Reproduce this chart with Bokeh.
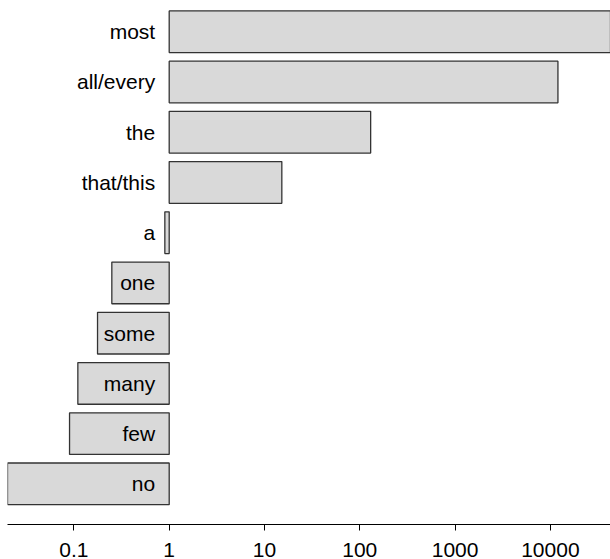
import numpy as np
from bokeh.plotting import figure
from bokeh.models import Range1d, FixedTicker, ColumnDataSource
from bokeh.core.properties import value
from bokeh.embed import file_html
from bokeh.resources import INLINE

# --- data ---
categories = ["most", "all/every", "the", "that/this", "a",
              "one", "some", "many", "few", "no"]
ratios = [45000, 12000, 130, 15.2, 0.9, 0.25, 0.177, 0.11, 0.09, 0.02]
tick_values = [0.1, 1, 10, 100, 1000, 10000]
tick_labels = ["0.1", "1", "10", "100", "1000", "10000"]
baseline = 1.0

n = len(categories)
ypos = [n - 1 - i for i in range(n)]
vals = np.array(ratios, dtype=float)
src = ColumnDataSource(dict(
    y=ypos,
    left=np.minimum(vals, baseline),
    right=np.maximum(vals, baseline),
    label=categories,
    base=[baseline] * n,
))

FONT = "Liberation Sans"

p = figure(width=610, height=559, x_axis_type="log",
           x_range=Range1d(0.0201, 42730), y_range=Range1d(-0.809, 9.622),
           output_backend="svg", toolbar_location=None,
           min_border_left=7, min_border_right=0, min_border_top=0,
           min_border_bottom=0)
p.outline_line_color = None
p.xgrid.visible = False
p.ygrid.visible = False
p.yaxis.visible = False

p.hbar(y="y", left="left", right="right", height=0.83, source=src,
       fill_color="#d9d9d9", line_color="#333333", line_width=1.3)

p.text(x="base", y="y", text="label", source=src, x_offset=-14,
       text_align="right", text_baseline="middle",
       text_font=value(FONT), text_font_size="21px", text_color="black")

ax = p.xaxis[0]
ax.ticker = FixedTicker(ticks=tick_values)
ax.major_label_overrides = {v: l for v, l in zip(tick_values, tick_labels)}
ax.minor_tick_line_color = None
ax.major_tick_out = 6
ax.major_tick_in = 0
ax.major_tick_line_color = "black"
ax.axis_line_color = "black"
ax.axis_line_width = 1
ax.major_label_text_font = FONT
ax.major_label_text_font_size = "21px"
ax.major_label_text_color = "black"
ax.major_label_standoff = 12

open("out.html", "w").write(file_html(p, INLINE))
